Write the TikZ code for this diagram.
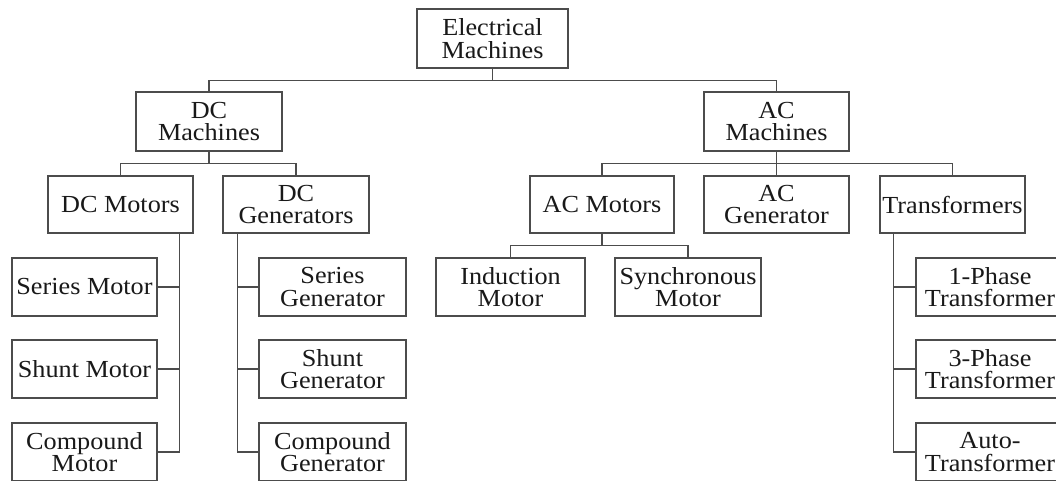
\documentclass[tikz,border=0pt]{standalone}
\usepackage{fontspec}
\setmainfont{Liberation Serif}[FakeStretch=1.07]
\begin{document}
\begin{tikzpicture}[x=1pt,y=-1pt,
  box/.style={draw=black!70,line width=1.2pt,rectangle,inner sep=0pt,align=center,
    font=\fontsize{24.5}{22.5}\selectfont,text=black!90},
  conn/.style={draw=black!70,line width=1.2pt}]
\useasboundingbox (0,0) rectangle (1056,480);
\clip (0,0) rectangle (1056,480);
% level 0
\node[box,minimum width=151pt,minimum height=59pt] (em) at (492.5,38.5) {Electrical\\Machines};
% level 1
\node[box,minimum width=146pt,minimum height=59pt] (dcm) at (209,121.5) {DC\\Machines};
\node[box,minimum width=145pt,minimum height=59pt] (acm) at (776.5,121.5) {AC\\Machines};
% level 2
\node[box,minimum width=145pt,minimum height=57pt] (dcmot) at (120.5,204.5) {DC Motors};
\node[box,minimum width=146pt,minimum height=57pt] (dcgen) at (296,204.5) {DC\\Generators};
\node[box,minimum width=144pt,minimum height=57pt] (acmot) at (602,204.5) {AC Motors};
\node[box,minimum width=145pt,minimum height=57pt] (acgen) at (776.5,204.5) {AC\\Generator};
\node[box,minimum width=145pt,minimum height=57pt] (trans) at (952.5,204.5) {Transformers};
% level 3 DC motors
\node[box,minimum width=145pt,minimum height=58pt] (sm) at (84.5,287) {Series Motor};
\node[box,minimum width=145pt,minimum height=58pt] (shm) at (84.5,369) {Shunt Motor};
\node[box,minimum width=145pt,minimum height=58pt] (cm) at (84.5,452) {Compound\\Motor};
% level 3 DC generators
\node[box,minimum width=147pt,minimum height=58pt] (sg) at (332.5,287) {Series\\Generator};
\node[box,minimum width=147pt,minimum height=58pt] (shg) at (332.5,369) {Shunt\\Generator};
\node[box,minimum width=147pt,minimum height=58pt] (cg) at (332.5,452) {Compound\\Generator};
% level 3 AC motors
\node[box,minimum width=149pt,minimum height=58pt] (im) at (510.5,287) {Induction\\Motor};
\node[box,minimum width=146pt,minimum height=58pt] (syn) at (688,287) {Synchronous\\Motor};
% level 3 transformers
\node[box,minimum width=148pt,minimum height=58pt] (t1) at (990,287) {1-Phase\\Transformer};
\node[box,minimum width=148pt,minimum height=58pt] (t3) at (990,369) {3-Phase\\Transformer};
\node[box,minimum width=148pt,minimum height=58pt] (ta) at (990,452) {Auto-\\Transformer};
% connectors
\draw[conn] (em.south) -- ++(0,12) -| (dcm.north);
\draw[conn] (em.south) -- ++(0,12) -| (acm.north);
\draw[conn] (dcm.south) -- ++(0,12) -| (dcmot.north);
\draw[conn] (dcm.south) -- ++(0,12) -| (dcgen.north);
\draw[conn] (acm.south) -- ++(0,12) -| (acmot.north);
\draw[conn] (acm.south) -- (acgen.north);
\draw[conn] (acm.south) -- ++(0,12) -| (trans.north);
\draw[conn] (acmot.south) -- ++(0,12) -| (im.north);
\draw[conn] (acmot.south) -- ++(0,12) -| (syn.north);
\draw[conn] ([xshift=-14pt]dcmot.south east) |- (sm.east);
\draw[conn] ([xshift=-14pt]dcmot.south east) |- (shm.east);
\draw[conn] ([xshift=-14pt]dcmot.south east) |- (cm.east);
\draw[conn] ([xshift=15pt]dcgen.south west) |- (sg.west);
\draw[conn] ([xshift=15pt]dcgen.south west) |- (shg.west);
\draw[conn] ([xshift=15pt]dcgen.south west) |- (cg.west);
\draw[conn] ([xshift=14pt]trans.south west) |- (t1.west);
\draw[conn] ([xshift=14pt]trans.south west) |- (t3.west);
\draw[conn] ([xshift=14pt]trans.south west) |- (ta.west);
\end{tikzpicture}
\end{document}
